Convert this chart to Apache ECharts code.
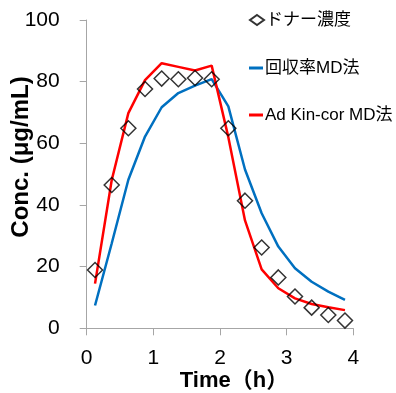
<!DOCTYPE html>
<html><head><meta charset="utf-8">
<script src="https://cdn.jsdelivr.net/npm/echarts@6/dist/echarts.min.js"></script>
<style>html,body{margin:0;padding:0;background:#fff}#c{width:396px;height:393px}</style>
</head><body><div id="c"></div>
<script>
const time = [0.125,0.375,0.625,0.875,1.125,1.375,1.625,1.875,2.125,2.375,2.625,2.875,3.125,3.375,3.625,3.875];
const donor = [18.9,46.5,64.9,77.6,81.0,80.8,81.2,80.8,64.9,41.4,26.2,16.5,10.3,6.7,4.3,2.5];
const recoveryMD = [7.4,27.5,48.2,62.2,71.7,76.3,78.7,80.8,72.0,51.5,37.3,26.5,19.5,15.1,11.9,9.2];
const adKinMD = [14.5,48.0,69.8,80.5,86.0,84.8,83.6,85.2,62.0,35.0,19.1,13.0,9.7,7.9,6.8,5.9];
const xTicks = [0,1,2,3,4];
const yTicks = [0,20,40,60,80,100];
const names = ['ドナー濃度','回収率MD法','Ad Kin-cor MD法'];

const FONT = '"Liberation Sans", Arial, "Noto Sans CJK JP", sans-serif';
const pair = (xs, ys) => xs.map((x,i)=>[x,ys[i]]);
const chart = echarts.init(document.getElementById('c'));
const axisCol = '#a6a6a6';
function leg(name, centerY, icon, h){
  return {data:[{name:name, icon:icon}], left:249, top:centerY-9, orient:'vertical',
    itemWidth:14, itemHeight:h, itemGap:0, padding:0, selectedMode:false,
    textStyle:{fontFamily:FONT, fontSize:17, color:'#000', lineHeight:18, padding:[0,0,0,-3]}};
}
chart.setOption({
  animation:false,
  grid:{left:86.7, right:42.7, top:20, bottom:64.7},
  xAxis:{type:'value', min:xTicks[0], max:xTicks[xTicks.length-1], interval:1,
    axisLine:{lineStyle:{color:axisCol, width:1}}, axisTick:{show:true, length:7, lineStyle:{color:axisCol}},
    splitLine:{show:false},
    axisLabel:{fontFamily:FONT, fontSize:21, color:'#000', margin:19}},
  yAxis:{type:'value', min:yTicks[0], max:yTicks[yTicks.length-1], interval:20,
    axisLine:{show:true, lineStyle:{color:axisCol, width:1}}, axisTick:{show:true, length:7, lineStyle:{color:axisCol}},
    splitLine:{show:false},
    axisLabel:{fontFamily:FONT, fontSize:21, color:'#000', margin:27}},
  legend:[leg(names[0],20,'diamond',10), leg(names[1],68,'rect',3), leg(names[2],115,'rect',3)],
  graphic:[
    {type:'text', x:21, y:157, rotation:Math.PI/2,
      style:{text:'Conc. (μg/mL)', font:'bold 24px '+FONT, fill:'#000', align:'center', verticalAlign:'middle'}},
    {type:'text', x:234, y:381,
      style:{text:'Time（h）', font:'bold 22px '+FONT, fill:'#000', align:'center', verticalAlign:'middle'}}
  ],
  series:[
    {name:names[1], type:'line', data:pair(time,recoveryMD), symbol:'none', color:'#0070C0',
      lineStyle:{width:2.5, color:'#0070C0'}, itemStyle:{color:'#0070C0'}, z:2},
    {name:names[2], type:'line', data:pair(time,adKinMD), symbol:'none', color:'#FF0000',
      lineStyle:{width:2.5, color:'#FF0000'}, itemStyle:{color:'#FF0000'}, z:3},
    {name:names[0], type:'scatter', data:pair(time,donor), symbol:'diamond', symbolSize:15,
      itemStyle:{color:'rgba(0,0,0,0)', borderColor:'#000', borderWidth:1.5}, z:4}
  ]
});
</script></body></html>
